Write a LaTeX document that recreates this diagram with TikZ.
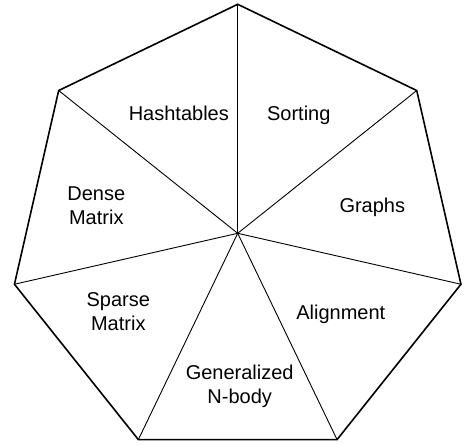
\documentclass[tikz,border=0pt]{standalone}
\usepackage{fontspec}
\setmainfont{Liberation Sans}
\usepackage{tikz}

\begin{document}
\begin{tikzpicture}[
        rim/.style={draw=black, line width=1.6pt, line join=miter},
        spoke/.style={draw=black, line width=0.9pt},
        dwarf/.style={align=center, inner sep=0pt,
                      font=\fontsize{20}{24}\selectfont}]
      \useasboundingbox (0,0) rectangle (465pt,444pt);
      \coordinate (c) at (237.7pt,210.7pt);
      \foreach \i in {0,...,6}
        \path (c) ++({90-\i*360/7}:229pt) coordinate (v\i);

      \foreach \i in {0,...,6}
        \draw[spoke] (c) -- (v\i);
      \draw[rim] (v0) -- (v1) -- (v2) -- (v3) -- (v4) -- (v5) -- (v6) -- cycle;

      \node[dwarf] (hash) at (178.8pt,330.7pt) {Hashtables};
      \node[dwarf] (sort) at (298.8pt,329pt) {Sorting};
      \node[dwarf] (graph) at (372.3pt,236.5pt) {Graphs};
      \node[dwarf] (dense) at (96.3pt,238pt) {Dense\\Matrix};
      \node[dwarf] (sparse) at (118.3pt,132pt) {Sparse\\Matrix};
      \node[dwarf] (align) at (340.8pt,129.3pt) {Alignment};
      \node[dwarf] (nbody) at (239.7pt,58pt) {Generalized\\N-body};
    \end{tikzpicture}
\end{document}
